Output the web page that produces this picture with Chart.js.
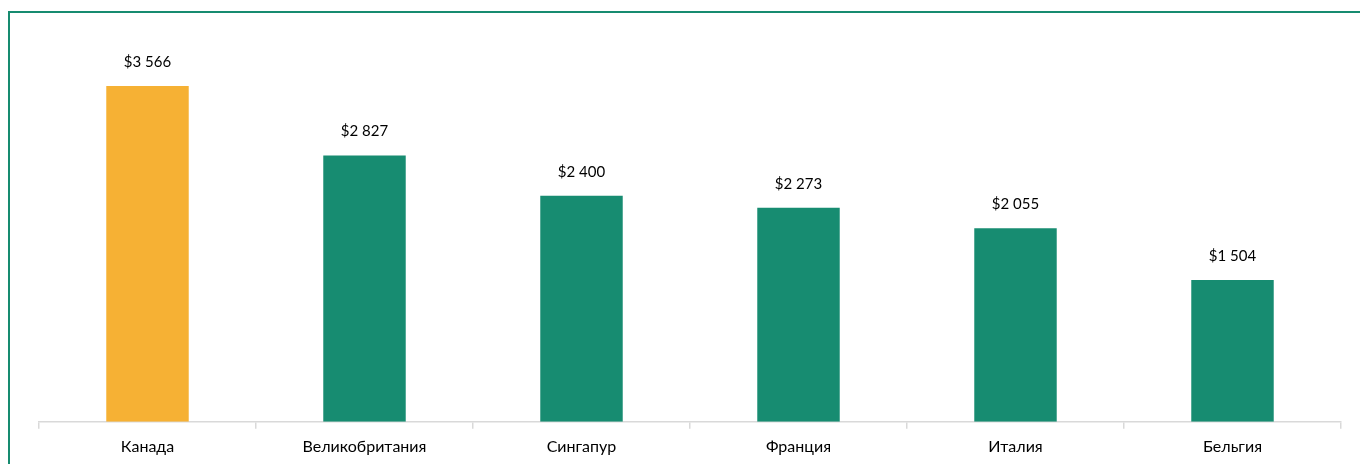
<!DOCTYPE html>
<html>
<head>
<meta charset="utf-8">
<script src="https://cdn.jsdelivr.net/npm/chart.js@4"></script>
<style>
  html, body { margin: 0; padding: 0; background: #fff; overflow: hidden; }
  #wrap { position: relative; width: 1360px; height: 464px; }
  #frame { position: absolute; left: 8px; top: 11px; width: 1400px; height: 500px; border: 2px solid #178b70; box-sizing: border-box; }
  canvas { position: absolute; left: 0; top: 0; }
</style>
</head>
<body>
<div id="wrap">
  <div id="frame"></div>
  <canvas id="c" width="1360" height="464"></canvas>
</div>
<script>
const categories = ["Канада", "Великобритания", "Сингапур", "Франция", "Италия", "Бельгия"];
const values = [3566, 2827, 2400, 2273, 2055, 1504];
const valueLabels = ["$3 566", "$2 827", "$2 400", "$2 273", "$2 055", "$1 504"];
const barColors = ["#F6B134", "#178C71", "#178C71", "#178C71", "#178C71", "#178C71"];

const FONT = "Lato, 'Open Sans', sans-serif";

const valueLabelPlugin = {
  id: 'valueLabels',
  afterDatasetsDraw(chart) {
    const ctx = chart.ctx;
    const meta = chart.getDatasetMeta(0);
    ctx.save();
    ctx.font = "15px " + FONT;
    ctx.fillStyle = "#000";
    ctx.textAlign = "center";
    ctx.textBaseline = "middle";
    meta.data.forEach((bar, i) => {
      ctx.fillText(valueLabels[i], bar.x, bar.y - 24);
    });
    ctx.restore();
  }
};

new Chart(document.getElementById('c'), {
  type: 'bar',
  data: {
    labels: categories,
    datasets: [{
      data: values,
      backgroundColor: barColors,
      borderWidth: 0,
      categoryPercentage: 1,
      barPercentage: 0.38
    }]
  },
  options: {
    responsive: false,
    animation: false,
    layout: { padding: { left: 39, right: 19, top: 45, bottom: 0 } },
    plugins: { legend: { display: false }, tooltip: { enabled: false } },
    scales: {
      x: {
        grid: { display: true, drawOnChartArea: false, offset: true, tickLength: 7, color: "#d9d9d9", lineWidth: 1.5 },
        border: { display: true, color: "#d9d9d9", width: 1.5 },
        ticks: { color: "#000", font: { family: FONT, size: 16 }, padding: 8 }
      },
      y: {
        display: false,
        min: 0,
        max: 4000
      }
    }
  },
  plugins: [valueLabelPlugin]
});
</script>
</body>
</html>
